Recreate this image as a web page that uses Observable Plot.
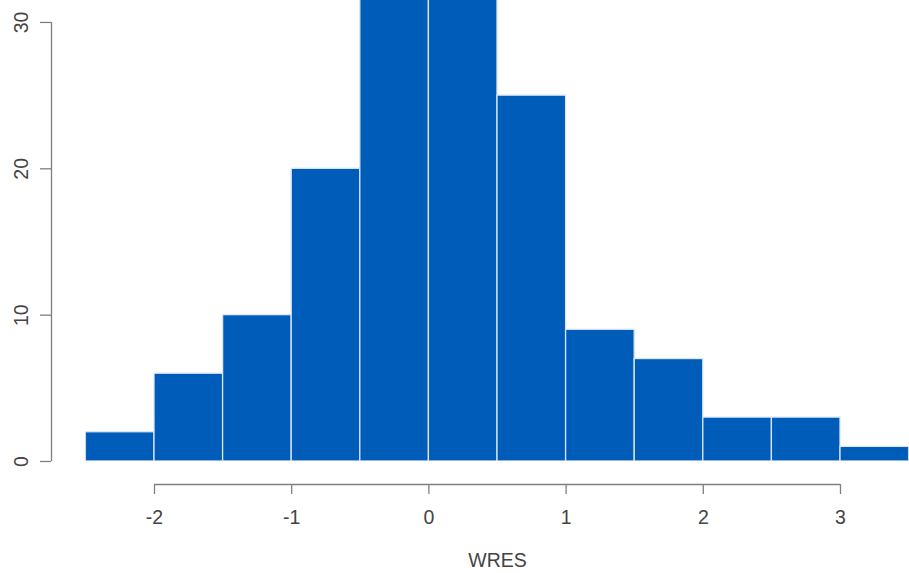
<!DOCTYPE html>
<html>
<head>
<meta charset="utf-8">
<script src="https://cdn.jsdelivr.net/npm/d3@7"></script>
<script src="https://cdn.jsdelivr.net/npm/@observablehq/plot@0.6"></script>
<style>
  html, body { margin: 0; padding: 0; background: #fff; }
  #chart svg { display: block; }
</style>
</head>
<body>
<div id="chart"></div>
<script>
// Histogram of WRES
const binStarts = [-2.5, -2, -1.5, -1, -0.5, 0, 0.5, 1, 1.5, 2, 2.5, 3];
const binWidth = 0.5;
const counts = [2, 6, 10, 20, 37, 34, 25, 9, 7, 3, 3, 1];
const xTicks = [-2, -1, 0, 1, 2, 3];
const yTicks = [0, 10, 20, 30];
const xLabel = "WRES";

const bins = binStarts.map((s, i) => ({x1: s, x2: s + binWidth, count: counts[i]}));

const font = "'Liberation Sans', Arial, sans-serif";
const axisColor = "#7f7f7f";
const textColor = "#444";
const fs = 19.5;

const chart = Plot.plot({
  width: 909,
  height: 573,
  marginTop: 0,
  marginBottom: 112,
  marginLeft: 85.4,
  marginRight: 0.4,
  style: {fontFamily: font, background: "#fff"},
  x: {domain: [binStarts[0], binStarts[binStarts.length - 1] + binWidth], axis: null},
  y: {domain: [0, 31.5], axis: null},
  marks: [
    Plot.rectY(bins, {x1: "x1", x2: "x2", y: "count", fill: "#005cb9", stroke: "#dbe7f6", strokeWidth: 1.3, clip: true}),
    // x axis
    Plot.ruleY([0], {x1: xTicks[0], x2: xTicks[xTicks.length - 1], dy: 23, stroke: axisColor, strokeWidth: 1.3}),
    Plot.axisX({ticks: xTicks, tickSize: 10, dy: 23, tickPadding: 16, fontSize: fs, stroke: axisColor, strokeWidth: 1.3, fill: textColor, label: null, tickFormat: d => String(d)}),
    Plot.text([xLabel], {frameAnchor: "bottom", text: d => d, dy: 99, lineAnchor: "middle", fontSize: fs, fill: textColor}),
    // y axis
    Plot.ruleX([binStarts[0]], {y1: yTicks[0], y2: yTicks[yTicks.length - 1], dx: -34.4, stroke: axisColor, strokeWidth: 1.3}),
    Plot.axisY({ticks: yTicks, tickSize: 11, dx: -34.4, stroke: axisColor, strokeWidth: 1.3, tickFormat: () => "", label: null}),
    Plot.text(yTicks, {y: d => d, text: d => String(d), frameAnchor: "left", dx: -64, rotate: -90, textAnchor: "middle", lineAnchor: "middle", fontSize: fs, fill: textColor})
  ]
});
document.getElementById("chart").appendChild(chart);
</script>
</body>
</html>
